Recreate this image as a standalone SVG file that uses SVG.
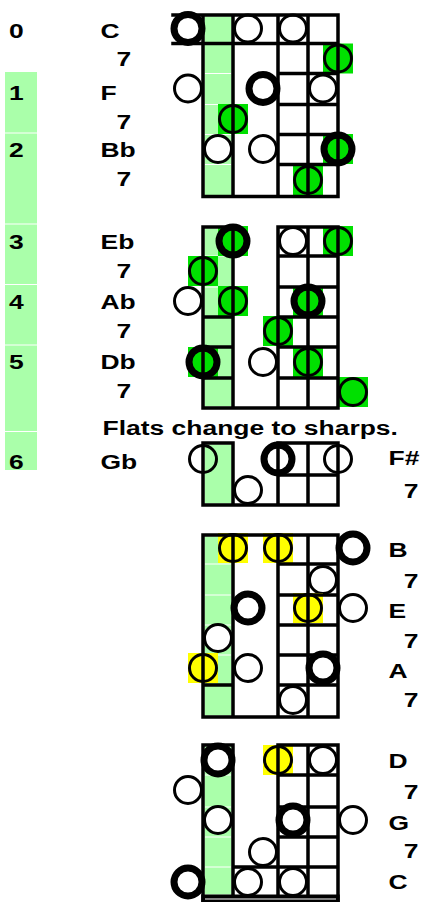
<svg xmlns="http://www.w3.org/2000/svg" width="421" height="902" viewBox="0 0 421 902">
<style>
.col{fill:#aaffaa}
.w{fill:#fff;stroke:#000;stroke-width:3}
.o{fill:none;stroke:#000;stroke-width:3}
.t{fill:#fff;stroke:#000;stroke-width:7}
.g{fill:#00e000;stroke:#000;stroke-width:3}
.tg{fill:#00e000;stroke:#000;stroke-width:7}
.y{fill:#ffff00;stroke:#000;stroke-width:3}
.gs{fill:#00e000}
.ys{fill:#ffff00}
.ln{fill:none;stroke:#000;stroke-width:3.5;stroke-linecap:square}
.sep{fill:none;stroke:#fff;stroke-width:1}
text{font-family:"Liberation Sans",Arial,sans-serif;font-weight:bold;font-size:21px;fill:#000}
</style>
<rect width="421" height="902" fill="#fff"/>

<g id="left-strip">
<rect class="col" x="5" y="72" width="32" height="398"/>
<path class="sep" d="M5 133H37M5 224H37M5 284.5H37M5 345H37M5 431.5H37"/>
</g>

<g id="labels" transform="scale(1.26,1)">
<text x="7.14" y="38">0</text>
<text x="7.14" y="100">1</text>
<text x="7.14" y="157">2</text>
<text x="7.14" y="249">3</text>
<text x="7.14" y="309">4</text>
<text x="7.14" y="369">5</text>
<text x="7.14" y="469">6</text>
<text x="79.76" y="38">C</text>
<text x="92.46" y="66">7</text>
<text x="79.76" y="100">F</text>
<text x="92.46" y="129">7</text>
<text x="79.76" y="157">Bb</text>
<text x="92.46" y="186">7</text>
<text x="79.76" y="249">Eb</text>
<text x="92.46" y="278">7</text>
<text x="79.76" y="309">Ab</text>
<text x="92.46" y="338">7</text>
<text x="79.76" y="369">Db</text>
<text x="92.46" y="398">7</text>
<text x="81.35" y="435">Flats change to sharps.</text>
<text x="79.76" y="469">Gb</text>
<text x="308.33" y="465">F#</text>
<text x="320.4" y="498">7</text>
<text x="308.33" y="557">B</text>
<text x="320.4" y="588">7</text>
<text x="308.33" y="618">E</text>
<text x="320.4" y="648">7</text>
<text x="308.33" y="678">A</text>
<text x="320.4" y="707">7</text>
<text x="308.33" y="768">D</text>
<text x="320.4" y="799">7</text>
<text x="308.33" y="830">G</text>
<text x="320.4" y="858">7</text>
<text x="308.33" y="889">C</text>
</g>

<g id="chart1">
<rect class="col" x="204.5" y="16.5" width="27" height="178.5"/>
<path class="sep" d="M204.5 73.5H231.5M204.5 104.5H231.5M204.5 134.5H231.5M204.5 164.5H231.5"/>
<circle class="t" cx="188" cy="28.5" r="14"/>
<circle class="w" cx="248" cy="28.5" r="13.5"/>
<circle class="w" cx="293" cy="28.5" r="13.5"/>
<rect class="gs" x="323" y="43.5" width="30" height="30"/>
<circle class="g" cx="338" cy="58.5" r="13.5"/>
<circle class="w" cx="188" cy="88.5" r="13.5"/>
<circle class="t" cx="263" cy="88.5" r="14"/>
<circle class="w" cx="323" cy="88.5" r="13.5"/>
<rect class="gs" x="218" y="104" width="30" height="30"/>
<circle class="g" cx="233" cy="119" r="13.5"/>
<circle class="w" cx="218" cy="149" r="13.5"/>
<circle class="w" cx="263" cy="149" r="13.5"/>
<rect class="gs" x="323" y="134" width="30" height="30"/>
<circle class="tg" cx="338" cy="149" r="14"/>
<rect class="gs" x="293" y="165" width="30" height="30"/>
<circle class="g" cx="308" cy="180" r="13.5"/>
</g>

<g id="chart2">
<rect class="col" x="204.5" y="228.5" width="27" height="178"/>
<path class="sep" d="M204.5 256H231.5M204.5 287H231.5"/>
<rect class="gs" x="218" y="226" width="30" height="30"/>
<circle class="tg" cx="233" cy="241" r="14"/>
<circle class="w" cx="293" cy="241" r="13.5"/>
<rect class="gs" x="323" y="226" width="30" height="30"/>
<circle class="g" cx="338" cy="241" r="13.5"/>
<rect class="gs" x="188" y="256" width="30" height="30"/>
<circle class="g" cx="203" cy="271" r="13.5"/>
<circle class="w" cx="188" cy="301" r="13.5"/>
<rect class="gs" x="218" y="286" width="30" height="30"/>
<circle class="g" cx="233" cy="301" r="13.5"/>
<rect class="gs" x="293" y="286" width="30" height="30"/>
<circle class="tg" cx="308" cy="301" r="14"/>
<rect class="gs" x="263" y="316" width="30" height="30"/>
<circle class="g" cx="278" cy="331" r="13.5"/>
<rect class="gs" x="188" y="347" width="30" height="30"/>
<circle class="tg" cx="203" cy="362" r="14"/>
<circle class="w" cx="263" cy="362" r="13.5"/>
<rect class="gs" x="293" y="347" width="30" height="30"/>
<circle class="g" cx="308" cy="362" r="13.5"/>
<rect class="gs" x="338" y="377" width="30" height="30"/>
<circle class="g" cx="353" cy="392" r="13.5"/>
</g>

<g id="chart3">
<rect class="col" x="204.5" y="444.5" width="27" height="59"/>
<circle class="o" cx="203" cy="459" r="13.5"/>
<circle class="t" cx="278" cy="459" r="14"/>
<circle class="w" cx="338" cy="459" r="13.5"/>
<circle class="w" cx="248" cy="490" r="13.5"/>
</g>

<g id="chart4">
<rect class="col" x="204.5" y="536.5" width="27" height="179"/>
<path class="sep" d="M204.5 564H231.5M204.5 595H231.5M204.5 625H231.5M204.5 655H231.5"/>
<rect class="ys" x="218" y="533" width="30" height="30"/>
<circle class="y" cx="233" cy="548" r="13.5"/>
<rect class="ys" x="263" y="533" width="30" height="30"/>
<circle class="y" cx="278" cy="548" r="13.5"/>
<circle class="t" cx="353" cy="548" r="14"/>
<circle class="w" cx="323" cy="580" r="13.5"/>
<circle class="t" cx="248" cy="608" r="14"/>
<rect class="ys" x="293" y="593" width="30" height="30"/>
<circle class="y" cx="308" cy="608" r="13.5"/>
<circle class="w" cx="353" cy="608" r="13.5"/>
<circle class="w" cx="218" cy="638" r="13.5"/>
<rect class="ys" x="188" y="653" width="30" height="30"/>
<circle class="y" cx="203" cy="668" r="13.5"/>
<circle class="w" cx="248" cy="668" r="13.5"/>
<circle class="t" cx="323" cy="668" r="14"/>
<circle class="w" cx="293" cy="700" r="13.5"/>
</g>

<g id="chart5">
<rect class="col" x="204.5" y="746.5" width="27" height="148"/>
<path class="sep" d="M204.5 775H231.5M204.5 807H231.5M204.5 837H231.5M204.5 867H231.5"/>
<circle class="t" cx="218" cy="760" r="14"/>
<rect class="ys" x="263" y="745" width="30" height="30"/>
<circle class="y" cx="278" cy="760" r="13.5"/>
<circle class="w" cx="323" cy="760" r="13.5"/>
<circle class="w" cx="188" cy="790" r="13.5"/>
<circle class="w" cx="218" cy="820" r="13.5"/>
<circle class="t" cx="293" cy="820" r="14"/>
<circle class="w" cx="353" cy="820" r="13.5"/>
<circle class="w" cx="263" cy="852" r="13.5"/>
<circle class="t" cx="188" cy="882" r="14"/>
<circle class="w" cx="248" cy="882" r="13.5"/>
<circle class="w" cx="293" cy="882" r="13.5"/>
</g>

<g id="grid-lines">
<path class="ln" d="M203 15V196.5M233 15V196.5M278 15V196.5M308 15V196.5M338 15V196.5M173 15H338M173 43.5H338M278 73.5H338M278 104.5H338M278 134.5H338M278 164.5H338M203 196.5H338"/>
<path class="ln" d="M203 227V408M233 227V408M278 227V408M308 227V408M338 227V408M203 227H233M278 227H338M278 256H338M278 287H338M203 317H233M278 317H338M203 347H233M278 347H338M203 378H233M278 378H338M203 408H338"/>
<path class="ln" d="M203 443V505M233 443V505M278 443V505M308 443V505M338 443V505M203 443H233M278 443H338M278 475H338M203 505H338"/>
<path class="ln" d="M203 535V717M233 535V717M278 535V717M308 535V717M338 535V717M203 535H338M278 564H338M278 595H338M278 625H338M278 655H338M203 685H233M278 685H338M203 717H338"/>
<path class="ln" d="M203 745V900.5M233 745V900.5M278 745V900.5M308 745V900.5M338 745V900.5M203 745H233M278 745H338M278 775H338M278 807H338M278 837H338M233 867H338"/>
<rect x="201.25" y="894.5" width="138.5" height="7.5" fill="#000"/>
<path d="M205 899H336" stroke="#fff" stroke-width="1.2"/>
</g>
</svg>
